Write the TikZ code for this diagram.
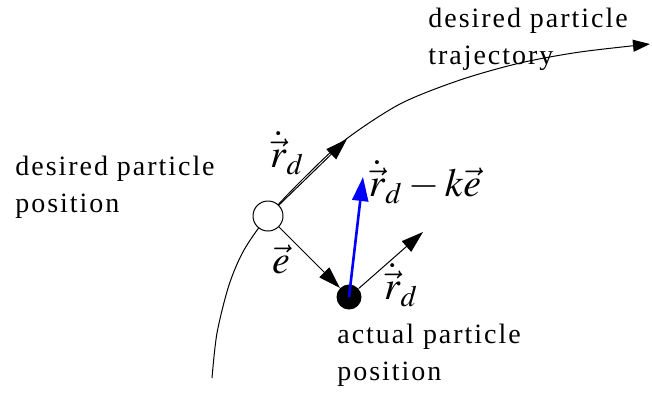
\documentclass[tikz,border=0pt]{standalone}
\usepackage{mathptmx}
\usepackage{fontspec}
\setmainfont{Liberation Serif}[LetterSpace=7]
\usetikzlibrary{arrows.meta}

\tikzset{
  vecarrow/.style={line width=0.5pt, -{Triangle[length=11pt,width=7pt]}},
  bluearrow/.style={blue, line width=1.3pt, -{Triangle[length=12pt,width=8pt]}},
  txtlabel/.style={align=left, anchor=north west, inner sep=0pt, font=\fontsize{14}{18.5}\selectfont},
  mathlabel/.style={inner sep=0pt, font=\fontsize{20}{24}\selectfont},
}

\begin{document}
\begin{tikzpicture}[x=0.5pt,y=-0.5pt]
		\useasboundingbox (0,0) rectangle (652,392);
		
		% desired trajectory (schematic)
		\draw[line width=0.5pt,-{Triangle[length=8.5pt,width=6pt]}] plot[smooth] coordinates {(212,378) (217,333) (229,285) (244,250) (268,216) (305,177) (345,140) (400,104) (460,80) (520,63) (580,52) (650,44)};
		
		% particles
		\node[draw, circle, fill=white, line width=0.5pt, minimum size=15pt, inner sep=0pt] (desired) at (268,216) {};
		\node[fill, circle, minimum size=12.5pt, inner sep=0pt] (actual) at (349,297) {};
		
		\coordinate (tantip) at (347,139);
		\coordinate (rdtip) at (423,232);
		\coordinate (bluetip) at (363,177);
		
		\draw[vecarrow] (desired.45) -- (tantip);
		\draw[vecarrow] (desired) -- (actual);
		\draw[vecarrow] (actual) -- (rdtip);
		\draw[bluearrow] (actual.center) -- (bluetip);
		
		% labels
		\node[txtlabel] (trajlabel) at (428,8) {desired particle\\trajectory};
		\node[txtlabel] (desiredlabel) at (15,156) {desired particle\\position};
		\node[txtlabel] (actuallabel) at (337,324) {actual particle\\position};
		
		\node[mathlabel] (tanlabel) at (287,153) {$\dot{\vec{r}}_d$};
		\node[mathlabel] (elabel) at (281,259) {$\vec{e}$};
		\node[mathlabel] (rdlabel) at (401,285) {$\dot{\vec{r}}_d$};
		\node[mathlabel] (bluelabel) at (425,182) {$\dot{\vec{r}}_d - k\vec{e}$};
	\end{tikzpicture}
\end{document}
